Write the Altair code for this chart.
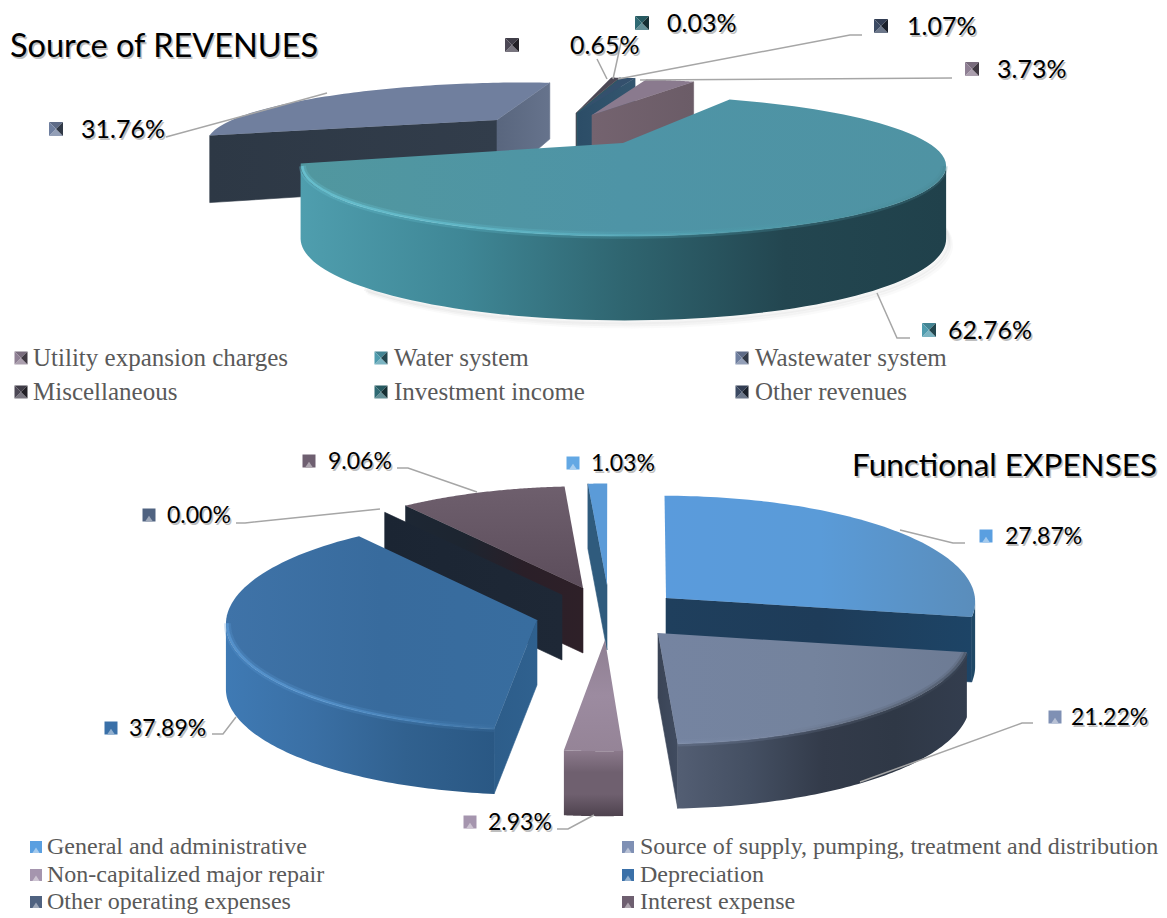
import math
import altair as alt
import pandas as pd

# ---------- data ----------
rev_names = ["Utility expansion charges", "Water system", "Wastewater system",
             "Miscellaneous", "Investment income", "Other revenues"]
rev_values = [3.73, 62.76, 31.76, 0.65, 0.03, 1.07]
rev_text = ["3.73%", "62.76%", "31.76%", "0.65%", "0.03%", "1.07%"]

exp_names = ["General and administrative", "Source of supply, pumping, treatment and distribution",
             "Non-capitalized major repair", "Depreciation", "Other operating expenses", "Interest expense"]
exp_values = [27.87, 21.22, 2.93, 37.89, 0.00, 9.06, 1.03]
exp_text = ["27.87%", "21.22%", "2.93%", "37.89%", "0.00%", "9.06%", "1.03%"]

# ---------- layout and styles ----------
W, H = 1151, 906
X = alt.X("x:Q", axis=None, scale=alt.Scale(domain=[8, 8 + W], nice=False, zero=False))
Y = alt.Y("y:Q", axis=None, scale=alt.Scale(domain=[8 + H, 8], nice=False, zero=False))


def hgrad(*cols):
    n = len(cols) - 1
    return {"gradient": "linear", "x1": 0, "x2": 1, "y1": 0, "y2": 0,
            "stops": [{"offset": i / n, "color": c} for i, c in enumerate(cols)]}


def vgrad(*cols):
    n = len(cols) - 1
    return {"gradient": "linear", "x1": 0, "x2": 0, "y1": 0, "y2": 1,
            "stops": [{"offset": i / n, "color": c} for i, c in enumerate(cols)]}


class Pie:
    def __init__(self, cx, cy, R, S, k, D, p):
        self.cx, self.cy, self.R, self.S, self.k, self.D, self.p = cx, cy, R, S, k, D, p
        self.sil = math.degrees(math.asin(k))

    def proj(self, px, py, z=0.0):
        w = 1 + self.k * py
        return (self.cx + self.R * px / w,
                self.cy - self.S * py / w + z * self.D * w ** (-self.p))

    def inv(self, x, y):
        a = (x - self.cx) / self.R
        b = (self.cy - y) / self.S
        py = b / (1 - self.k * b)
        return a * (1 + self.k * py), py


layers = []


def poly(points, fill, stroke=None, sw=0.6):
    df = pd.DataFrame({"x": [p[0] for p in points], "y": [p[1] for p in points],
                       "i": list(range(len(points)))})
    layers.append(alt.Chart(df).mark_line(interpolate="linear-closed", fill=fill,
                                          stroke=stroke or "transparent", strokeWidth=sw)
                  .encode(x=X, y=Y, order="i:Q"))


def stroke_line(points, stroke, sw, opacity=1.0):
    df = pd.DataFrame({"x": [p[0] for p in points], "y": [p[1] for p in points],
                       "i": list(range(len(points)))})
    layers.append(alt.Chart(df).mark_line(stroke=stroke, strokeWidth=sw, opacity=opacity)
                  .encode(x=X, y=Y, order="i:Q"))


def rim_pts(pie, ox, oy, a0, a1, z=0.0, n=80, inset=1.0):
    pts = []
    for j in range(n + 1):
        t = math.radians(a0 + (a1 - a0) * j / n)
        pts.append(pie.proj(ox + inset * math.sin(t), oy + inset * math.cos(t), z))
    return pts


def draw_slice(pie, apex, a0, a1, top, outer, wall0=None, wall1=None, edge=None, rad=1.0):
    ox, oy = pie.inv(*apex)
    # radial faces that turn towards the viewer
    if wall0 and math.sin(math.radians(a0)) < 0:
        t = math.radians(a0)
        e = (ox + rad * math.sin(t), oy + rad * math.cos(t))
        poly([pie.proj(ox, oy), pie.proj(*e), pie.proj(*e, 1), pie.proj(ox, oy, 1)], wall0, wall0)
    if wall1 and math.sin(math.radians(a1)) > 0:
        t = math.radians(a1)
        e = (ox + rad * math.sin(t), oy + rad * math.cos(t))
        poly([pie.proj(ox, oy), pie.proj(*e), pie.proj(*e, 1), pie.proj(ox, oy, 1)], wall1, wall1)
    # outer wall, the part in front of the silhouette points only
    lo, hi = 90 + pie.sil, 270 - pie.sil
    b0, b1 = max(a0, lo), min(a1, hi)
    if b1 > b0 and outer:
        poly(rim_pts(pie, ox, oy, b0, b1, inset=rad) + rim_pts(pie, ox, oy, b1, b0, 1, inset=rad), outer, None)
    # top
    if a1 > a0:
        poly([pie.proj(ox, oy)] + rim_pts(pie, ox, oy, a0, a1, inset=rad), top, None)
    if edge and b1 > b0:
        pts = rim_pts(pie, ox, oy, b0, b1, inset=0.995 * rad)
        stroke_line(pts, edge, 7, 0.25)
        stroke_line(pts, edge, 2.5, 0.65)


def sweeps(values, start):
    out, a = [], start
    for v in values:
        out.append((a, a + v * 3.6))
        a += v * 3.6
    return out


# ---------- soft floor shadows ----------
top_pie = Pie(620, 143, 310, 63.8, 0.329, 68.6, 0.53)
low_pie = Pie(615, 610, 310, 106, 0.03, 65, 0.0)

for dz, op in ((4, 0.10), (8, 0.07), (12, 0.05)):
    sh = [(x + dz * 0.4, y + dz * 0.5) for x, y in rim_pts(top_pie, 0.01, 0, 100, 220, 1, inset=0.985)]
    stroke_line(sh, "#9a9a9a", 4, op)

# ---------- top pie ----------
rv = sweeps(rev_values, 13.5)
draw_slice(top_pie, (497, 120), *rv[2], top="#707f9e", outer="#303b49",
           wall0=hgrad("#2d3845", "#323d4b"), wall1=hgrad("#59667e", "#66738c"), rad=0.97)
draw_slice(top_pie, (576, 113), *rv[3], top="#4c4855", outer=None, wall1="#4c4855")
draw_slice(top_pie, (577, 113), *rv[4], top="#2c5a66", outer=None, wall1="#2c5a66")
draw_slice(top_pie, (578, 113), *rv[5], top="#34506d", outer="#2b4c66", wall1=hgrad("#2c4d67", "#34566f"))
draw_slice(top_pie, (592, 115), *rv[0], top="#8a7a8e", outer=None,
           wall1=hgrad("#74636f", "#6b5c67"))
draw_slice(top_pie, (623, 143), *rv[1], top=hgrad("#51979f", "#4e94a6", "#4f93a3"),
           outer=hgrad("#4f9eae", "#3f8796", "#2f6570", "#234650", "#20414b"),
           wall0="#3a7f8c", wall1="#3a7f8c", edge=hgrad("#6fcbdc", "#62bccc", "#4f9dac", "#4a8a98"), rad=0.985)

# ---------- bottom pie ----------
ev = sweeps(exp_values, 0.0)
draw_slice(low_pie, (607, 585), *ev[6], top="#5b9bd8", outer=None, wall0="#2f5b7d")
draw_slice(low_pie, (583, 588), *ev[5], top=vgrad("#6e5f6d", "#5c4d5b"), outer=None,
           wall0=hgrad("#1d2734", "#1d2530", "#2a1f28", "#2e2028"))
draw_slice(low_pie, (562, 595), *ev[4], top="#1e2836", outer=None,
           wall0=hgrad("#1b2533", "#1e2836"))
draw_slice(low_pie, (537, 620), *ev[3], top=hgrad("#3f73a8", "#386b9d", "#386d9f"),
           outer=hgrad("#3f7ab4", "#3a6fa4", "#31618f", "#2a5884"),
           wall0=hgrad("#2d5d8a", "#2f618f"), edge=hgrad("#5c9cd8", "#5b9ad4", "#4f8cc4", "#3f73a4"))
draw_slice(low_pie, (666, 598), *ev[0], top=hgrad("#5a9bdc", "#5a9bd8", "#5a8dbb"),
           outer=hgrad("#1f4866", "#1f4866"), wall1=hgrad("#1f3f5d", "#1e3c59", "#1d4466"))
draw_slice(low_pie, (658, 633), *ev[1], top=hgrad("#7584a1", "#74839d", "#6d7b94"),
           outer=hgrad("#535e73", "#444f62", "#333b4a", "#2f3846", "#333d4e"),
           wall1=hgrad("#3a4456", "#414c60"), edge=hgrad("#7c8ba8", "#76849f", "#5b6678", "#4a5464"))
draw_slice(low_pie, (605, 640), *ev[2], top=vgrad("#8f7f92", "#9c8ba0", "#958497"),
           outer=vgrad("#8c7a8c", "#6f606f", "#6f606f", "#4e424e"))


# ---------- leader lines ----------
leaders = [
    [(166, 137), (327, 93)],
    [(597, 59), (607, 79)],
    [(622, 38), (613, 79)],
    [(862, 35), (850, 35), (618, 79)],
    [(952, 78), (640, 80)],
    [(910, 338), (897, 338), (877, 293)],
    [(965, 543), (953, 543), (900, 530)],
    [(1033, 723), (1022, 723), (860, 782)],
    [(397, 468), (408, 468), (477, 492)],
    [(236, 523), (245, 523), (380, 509)],
    [(212, 734), (223, 734), (236, 717)],
    [(557, 829), (568, 829), (594, 815)],
]
for ld in leaders:
    stroke_line(ld, "#a6a6a6", 1.5)


# ---------- marker squares ----------
def shade(col, f):
    r, g, b = int(col[1:3], 16), int(col[3:5], 16), int(col[5:7], 16)
    if f <= 1:
        vals = [c * f for c in (r, g, b)]
    else:
        vals = [c + (255 - c) * (f - 1) for c in (r, g, b)]
    return "#%02x%02x%02x" % tuple(int(v) for v in vals)


marker_rows = []
mid = 0


def add_tri(pts, col):
    global mid
    mid += 1
    for i, p in enumerate(pts):
        marker_rows.append({"x": p[0], "y": p[1], "i": i, "id": mid, "c": col})


def bevel_marker(mx, my, col, s=7):
    tl, tr, br, bl, c = (mx - s, my - s), (mx + s, my - s), (mx + s, my + s), (mx - s, my + s), (mx, my)
    add_tri([tl, tr, c], shade(col, 0.85))
    add_tri([bl, br, c], shade(col, 1.25))
    add_tri([tl, bl, c], shade(col, 1.0))
    add_tri([tr, br, c], shade(col, 0.45))


def flat_marker(mx, my, col, s=6.5):
    add_tri([(mx - s, my - s), (mx + s, my - s), (mx + s, my + s), (mx - s, my + s)], col)
    add_tri([(mx - s * 0.6, my + s), (mx, my + s * 0.1), (mx + s * 0.6, my + s)], shade(col, 1.45))


rev_cols = ["#8f8094", "#4f9cae", "#6f7f9f", "#4c4855", "#2f6a73", "#3c4a63"]
exp_cols = ["#5a9fe0", "#7f90b4", "#a595ae", "#3a70a8", "#4f6280", "#6e5f70", "#63a8e4"]

rev_label_pos = [(972, 69, 997), (929, 330, 948), (56, 129, 81), (512, 45, 570), (642, 23, 667), (881, 26, 907)]
exp_label_pos = [(986, 536, 1005), (1055, 717, 1071), (470, 822, 488), (111, 728, 129),
                 (149, 515, 167), (309, 461, 328), (573, 463, 591)]
rev_legend_pos = [(21, 358, 33), (381, 358, 394), (742, 358, 755), (21, 392, 33), (381, 392, 394), (742, 392, 755)]
exp_legend_pos = [(36, 847, 47), (628, 847, 640), (36, 875, 47), (628, 875, 640), (36, 902, 47), (628, 902, 640)]

for (mx, my, _), col in zip(rev_label_pos, rev_cols):
    bevel_marker(mx, my, col)
for (mx, my, _), col in zip(rev_legend_pos, rev_cols):
    bevel_marker(mx, my, col, 6.5)
for (mx, my, _), col in zip(exp_label_pos, exp_cols):
    flat_marker(mx, my, col)
for (mx, my, _), col in zip(exp_legend_pos, exp_cols):
    flat_marker(mx, my, col, 6)

layers.append(alt.Chart(pd.DataFrame(marker_rows)).mark_line(interpolate="linear-closed", strokeWidth=0, stroke="transparent")
              .encode(x=X, y=Y, order="i:Q", detail="id:N", fill=alt.Fill("c:N", scale=None)))


# ---------- text ----------
def text_layer(rows, font, size, color, align="left", shadow=True):
    df = pd.DataFrame(rows, columns=["x", "y", "t"])
    if shadow:
        layers.append(alt.Chart(df).mark_text(font=font, fontSize=size, align=align, baseline="middle",
                                              color="#8a8a8a", opacity=0.55, dx=1.5, dy=1.5)
                      .encode(x=X, y=Y, text="t:N"))
    layers.append(alt.Chart(df).mark_text(font=font, fontSize=size, align=align, baseline="middle", color=color)
                  .encode(x=X, y=Y, text="t:N"))


SANS = "Lato"
text_layer([(p[2], p[1] + 1, t) for p, t in zip(rev_label_pos, rev_text)], SANS, 25, "#000000")
text_layer([(p[2], p[1] + 1, t) for p, t in zip(exp_label_pos, exp_text)], SANS, 23, "#000000")
text_layer([(10, 47, "Source of REVENUES")], SANS, 32.5, "#000000")
text_layer([(1157, 467, "Functional EXPENSES")], SANS, 31.5, "#000000", align="right")
text_layer([(p[2], p[1], t) for p, t in zip(rev_legend_pos, rev_names)], "Liberation Serif", 25, "#595959", shadow=False)
text_layer([(p[2], p[1], t) for p, t in zip(exp_legend_pos, exp_names)], "Liberation Serif", 24, "#595959", shadow=False)

chart = alt.layer(*layers).properties(
    width=W, height=H, padding=0, background="white",
    autosize=alt.AutoSizeParams(type="none"),
).configure_view(stroke=None)

chart.save("out.html", embed_options={"renderer": "svg", "actions": False})
